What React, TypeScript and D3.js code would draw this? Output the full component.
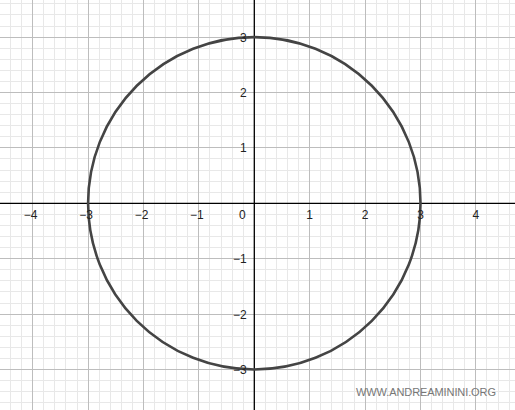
import React, { useEffect, useRef } from 'react';
import * as d3 from 'd3';

const xTicks = [-4, -3, -2, -1, 1, 2, 3, 4];
const yTicks = [-3, -2, -1, 1, 2, 3];
const circleCenter = [0, 0];
const circleRadius = 3;
const watermark = 'WWW.ANDREAMININI.ORG';

const fmt = (v: number) => (v < 0 ? '\u2212' + Math.abs(v) : String(v));

const App: React.FC = () => {
    const svgRef = useRef<SVGSVGElement>(null);

    useEffect(() => {
        if (!svgRef.current) return;
        const svg = d3.select(svgRef.current);
        svg.selectAll('*').remove();

        const width = 515;
        const height = 410;
        const unit = 55.4;
        const ox = 254.3;
        const oy = 203.3;

        const x = d3.scaleLinear().domain([0, 1]).range([ox, ox + unit]);
        const y = d3.scaleLinear().domain([0, 1]).range([oy, oy - unit]);

        const [x0, x1] = [x.invert(0), x.invert(width)];
        const [y0, y1] = [y.invert(height), y.invert(0)];

        svg.append('rect').attr('width', width).attr('height', height).attr('fill', '#fff');

        // minor grid
        const minorX = d3.range(Math.ceil(x0 * 5), Math.floor(x1 * 5) + 1).map(d => d / 5).filter(d => Math.abs(d - Math.round(d)) > 1e-6);
        const minorY = d3.range(Math.ceil(y0 * 5), Math.floor(y1 * 5) + 1).map(d => d / 5).filter(d => Math.abs(d - Math.round(d)) > 1e-6);
        const grid = svg.append('g').attr('shape-rendering', 'crispEdges');
        grid.selectAll('.mx').data(minorX).join('line')
            .attr('x1', d => x(d)).attr('x2', d => x(d)).attr('y1', 0).attr('y2', height)
            .attr('stroke', '#e8e8e8').attr('stroke-width', 1);
        grid.selectAll('.my').data(minorY).join('line')
            .attr('y1', d => y(d)).attr('y2', d => y(d)).attr('x1', 0).attr('x2', width)
            .attr('stroke', '#e8e8e8').attr('stroke-width', 1);

        // major grid
        const majorX = d3.range(Math.ceil(x0), Math.floor(x1) + 1);
        const majorY = d3.range(Math.ceil(y0), Math.floor(y1) + 1);
        grid.selectAll('.Mx').data(majorX).join('line')
            .attr('x1', d => x(d)).attr('x2', d => x(d)).attr('y1', 0).attr('y2', height)
            .attr('stroke', '#bdbdbd').attr('stroke-width', 1);
        grid.selectAll('.My').data(majorY).join('line')
            .attr('y1', d => y(d)).attr('y2', d => y(d)).attr('x1', 0).attr('x2', width)
            .attr('stroke', '#bdbdbd').attr('stroke-width', 1);

        // axes
        svg.append('line').attr('x1', 0).attr('x2', width).attr('y1', y(0)).attr('y2', y(0))
            .attr('stroke', '#000').attr('stroke-width', 1.3);
        svg.append('line').attr('y1', 0).attr('y2', height).attr('x1', x(0)).attr('x2', x(0))
            .attr('stroke', '#000').attr('stroke-width', 1.3);

        const font = 'Arial, "Liberation Sans", sans-serif';

        // circle
        svg.append('circle')
            .attr('cx', x(circleCenter[0]))
            .attr('cy', y(circleCenter[1]))
            .attr('r', x(circleRadius) - x(0))
            .attr('fill', 'none')
            .attr('stroke', '#444')
            .attr('stroke-width', 2.6);

        // tick labels
        svg.append('g').selectAll('text').data(xTicks).join('text')
            .attr('x', d => x(d) + (d < 0 ? -2 : 0))
            .attr('y', y(0) + 15.5)
            .attr('text-anchor', 'middle')
            .attr('font-family', font).attr('font-size', 12).attr('fill', '#222')
            .text(d => fmt(d));

        svg.append('text')
            .attr('x', x(0) - 12).attr('y', y(0) + 15.5)
            .attr('text-anchor', 'middle')
            .attr('font-family', font).attr('font-size', 12).attr('fill', '#222')
            .text('0');

        svg.append('g').selectAll('text').data(yTicks).join('text')
            .attr('x', x(0) - 7.5)
            .attr('y', d => y(d) + 4.5)
            .attr('text-anchor', 'end')
            .attr('font-family', font).attr('font-size', 12).attr('fill', '#222')
            .text(d => fmt(d));

        // watermark
        svg.append('text')
            .attr('x', 356).attr('y', 395.5)
            .attr('textLength', 140)
            .attr('font-family', font).attr('font-size', 11).attr('fill', '#777')
            .text(watermark);
    }, []);

    return (
        <svg
            ref={svgRef}
            width={515}
            height={410}
            style={{ position: 'fixed', left: 0, top: 0, display: 'block' }}
        />
    );
};

export default App;
